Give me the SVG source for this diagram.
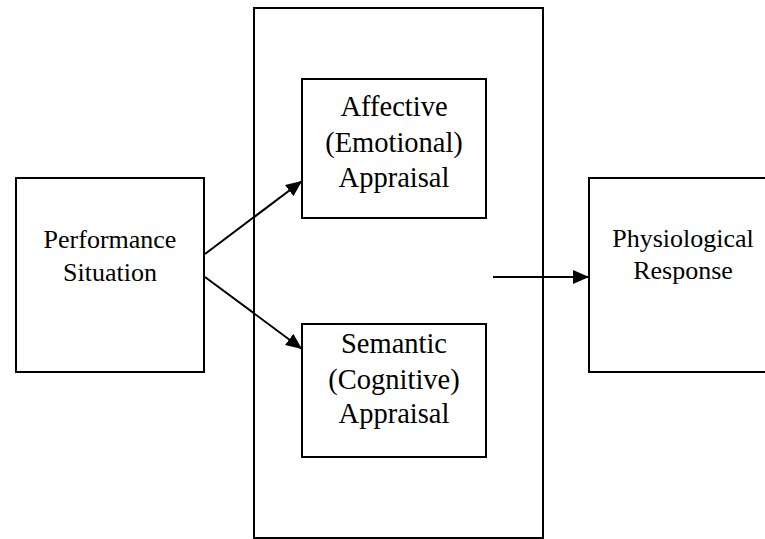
<svg xmlns="http://www.w3.org/2000/svg" width="765" height="539" viewBox="0 0 765 539">
<style>
.box{fill:#fff;stroke:#000;stroke-width:2}
text{font-family:'Liberation Serif','Times New Roman','DejaVu Serif',serif;fill:#000;text-anchor:middle}
.s{font-size:26px}
.m{font-size:28.5px}
.c{stroke:#000;stroke-width:2;fill:none;marker-end:url(#ah)}
</style>
<defs>
<marker id="ah" markerUnits="userSpaceOnUse" markerWidth="18" markerHeight="14" refX="16" refY="7" orient="auto">
<path d="M0,0 L16,7 L0,14 Z" fill="#000"/>
</marker>
</defs>
<rect width="765" height="539" fill="#fff"/>
<g id="container"><rect class="box" x="254" y="8" width="289" height="530"/></g>
<g id="performance">
<rect class="box" x="16" y="178" width="188" height="194"/>
<text class="s" x="110" y="248" font-family="Liberation Serif, serif">Performance</text>
<text class="s" x="110" y="281" font-family="Liberation Serif, serif">Situation</text>
</g>
<g id="affective">
<rect class="box" x="302" y="79" width="184" height="139"/>
<text class="m" x="394" y="116" font-family="Liberation Serif, serif">Affective</text>
<text class="m" x="394" y="152" font-family="Liberation Serif, serif">(Emotional)</text>
<text class="m" x="394" y="187" font-family="Liberation Serif, serif">Appraisal</text>
</g>
<g id="semantic">
<rect class="box" x="302" y="324" width="184" height="133"/>
<text class="m" x="394" y="353" font-family="Liberation Serif, serif">Semantic</text>
<text class="m" x="394" y="389" font-family="Liberation Serif, serif">(Cognitive)</text>
<text class="m" x="394" y="423" font-family="Liberation Serif, serif">Appraisal</text>
</g>
<g id="physiological">
<rect class="box" x="589" y="178" width="190" height="194"/>
<text class="s" x="683" y="247" font-family="Liberation Serif, serif">Physiological</text>
<text class="s" x="683" y="279" font-family="Liberation Serif, serif">Response</text>
</g>
<g id="connectors">
<line class="c" x1="205" y1="254" x2="302" y2="181"/>
<line class="c" x1="205" y1="277" x2="302" y2="349"/>
<line class="c" x1="493" y1="277" x2="589" y2="277"/>
</g>
</svg>
